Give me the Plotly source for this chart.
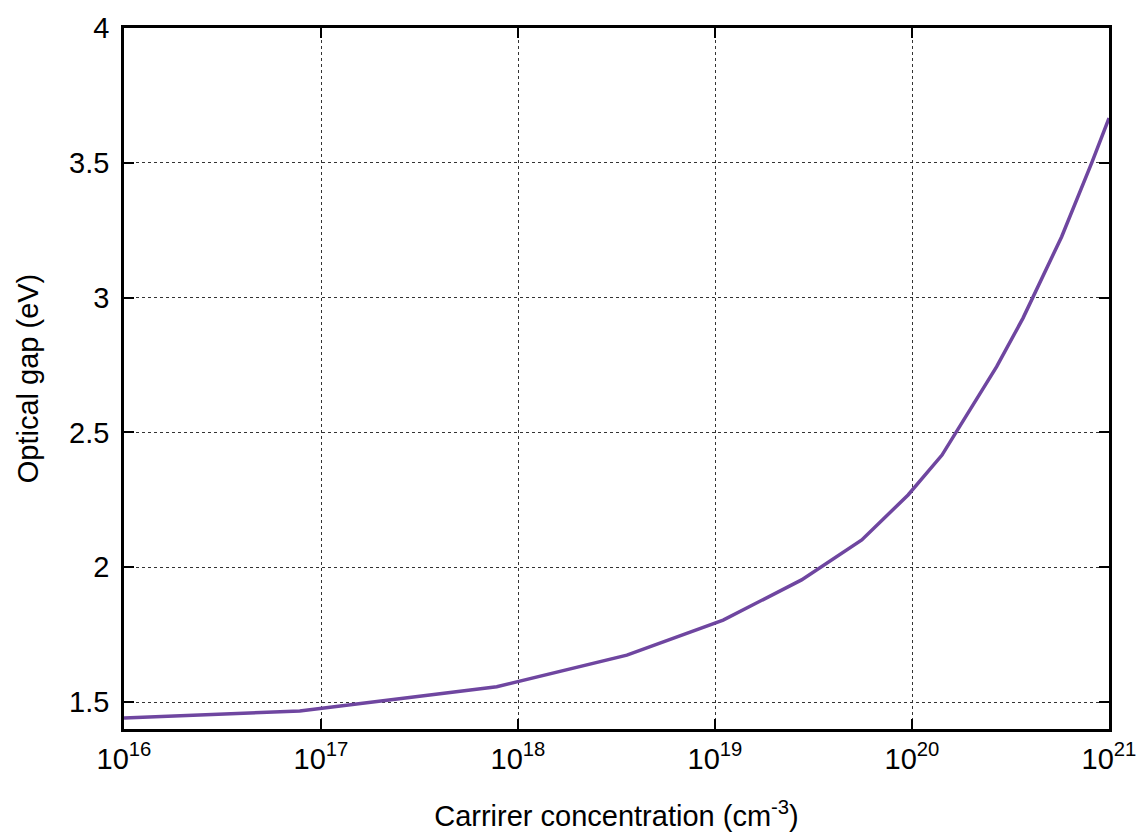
import plotly.graph_objects as go

# Data
carrier_conc = [1e16, 7.8e16, 7.8e17, 3.57e18, 1.1e19, 2.75e19, 5.56e19, 9.55e19,
                1.42e20, 1.97e20, 2.69e20, 3.66e20, 4.62e20, 5.75e20, 8.17e20, 1e21]
optical_gap = [1.441, 1.467, 1.557, 1.674, 1.804, 1.953, 2.101, 2.268,
               2.416, 2.583, 2.744, 2.924, 3.078, 3.226, 3.50, 3.666]

x_tickvals = [1e16, 1e17, 1e18, 1e19, 1e20, 1e21]
x_ticktext = ["10<sup>16</sup>", "10<sup>17</sup>", "10<sup>18</sup>",
              "10<sup>19</sup>", "10<sup>20</sup>", "10<sup>21</sup>"]
y_tickvals = [1.5, 2, 2.5, 3, 3.5, 4]
y_ticktext = ["1.5", "2", "2.5", "3", "3.5", "4"]

FONT = "Liberation Sans, Arial, Helvetica, sans-serif"
FS = 29

fig = go.Figure()
fig.add_trace(go.Scatter(
    x=carrier_conc, y=optical_gap, mode="lines",
    line=dict(color="#6f46a0", width=3.5),
    showlegend=False,
))

axis_common = dict(
    showline=True, linecolor="black", linewidth=2.5, mirror="ticks",
    ticks="inside", ticklen=10, tickwidth=2, tickcolor="black",
    showgrid=True, gridcolor="#333333", gridwidth=1, griddash="3px,3px",
    zeroline=False, automargin=False,
    tickfont=dict(family=FONT, size=FS, color="black"),
)

fig.update_layout(
    width=1141, height=832,
    margin=dict(l=124, r=32, t=28, b=103, autoexpand=False),
    plot_bgcolor="white", paper_bgcolor="white",
    font=dict(family=FONT, color="black"),
    xaxis=dict(
        type="log", range=[16, 21],
        tickvals=x_tickvals, ticktext=x_ticktext,
        ticklabelstandoff=2,
        title=dict(text="Carrirer concentration (cm<sup>-3</sup>)",
                   font=dict(family=FONT, size=FS, color="black"), standoff=34),
        **axis_common,
    ),
    yaxis=dict(
        range=[1.4, 4],
        tickvals=y_tickvals, ticktext=y_ticktext,
        ticklabelstandoff=6,
        title=dict(text="Optical gap (eV)",
                   font=dict(family=FONT, size=FS, color="black"), standoff=22),
        **axis_common,
    ),
)

fig.write_html("out.html")
